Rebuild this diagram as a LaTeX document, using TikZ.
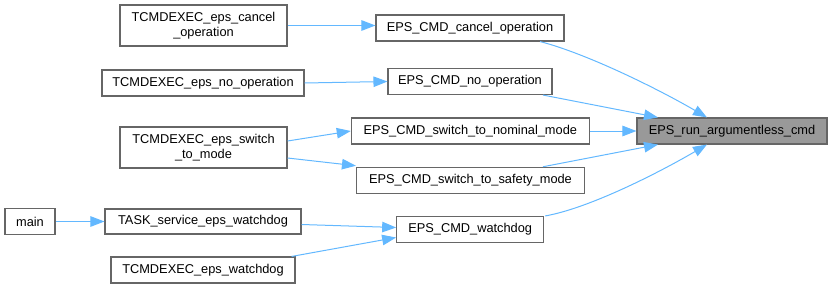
\documentclass[tikz,border=0pt]{standalone}
\usepackage{fontspec}
\setmainfont{Liberation Sans}
\usetikzlibrary{arrows.meta,calc}
\definecolor{edgeblue}{HTML}{63B8FF}
\definecolor{boxline}{HTML}{666666}
\definecolor{hilite}{HTML}{999999}
\begin{document}
\begin{tikzpicture}[x=1pt,y=-1pt,
  fn/.style={draw=boxline,line width=1.1pt,fill=white,inner sep=0pt,align=center,
    font=\fontsize{12.8}{14.5}\selectfont},
  call/.style={draw=edgeblue,line width=1pt,-{Triangle[length=14pt,width=10.5pt]}}]
\useasboundingbox (0,0) rectangle (832,289);

% callers of the EPS_CMD_* functions
\node[fn,minimum width=167,minimum height=41] (tcCancel) at (203.5,25.5) {TCMDEXEC\_eps\_cancel\\\_operation};
\node[fn,minimum width=202,minimum height=26] (tcNoop) at (203,83) {TCMDEXEC\_eps\_no\_operation};
\node[fn,minimum width=167,minimum height=41] (tcSwitch) at (203.5,147.5) {TCMDEXEC\_eps\_switch\\\_to\_mode};
\node[fn,minimum width=50,minimum height=26] (main) at (30,221.5) {main};
\node[fn,minimum width=196,minimum height=25] (task) at (203,221.5) {TASK\_service\_eps\_watchdog};
\node[fn,minimum width=184,minimum height=26] (tcWd) at (203,270) {TCMDEXEC\_eps\_watchdog};

% EPS_CMD_* functions
\node[fn,minimum width=188,minimum height=26] (cmdCancel) at (470,28) {EPS\_CMD\_cancel\_operation};
\node[fn,minimum width=164,minimum height=26] (cmdNoop) at (470,81.5) {EPS\_CMD\_no\_operation};
\node[fn,minimum width=238,minimum height=26] (cmdNominal) at (470.3,131) {EPS\_CMD\_switch\_to\_nominal\_mode};
\node[fn,minimum width=228,minimum height=26] (cmdSafety) at (470.5,180.3) {EPS\_CMD\_switch\_to\_safety\_mode};
\node[fn,minimum width=147,minimum height=26] (cmdWd) at (470.2,229.5) {EPS\_CMD\_watchdog};

% the function being documented
\node[fn,fill=hilite,minimum width=190,minimum height=26] (run) at (732,131) {EPS\_run\_argumentless\_cmd};

% call edges
\draw[call] (tcCancel.east) -- (cmdCancel.west |- tcCancel.east);
\draw[call] (tcNoop.east) -- (cmdNoop.west);
\draw[call] ($(tcSwitch.east)+(0,-6.5)$) -- (cmdNominal.west);
\draw[call] ($(tcSwitch.east)+(0,10.5)$) -- ($(cmdSafety.north west)+(0,-1)$);
\draw[call] (main.east) -- (task.west);
\draw[call] ($(task.east)+(0,3)$) -- ($(cmdWd.west)+(0,-2)$);
\draw[call] ($(tcWd.north east)+(-4,0)$) -- ($(cmdWd.west)+(0,8)$);

\draw[call] ($(cmdCancel.south)+(70,0)$) .. controls (588,54) and (660,90) .. ($(run.north)+(-25,0)$);
\draw[call] ($(cmdNoop.south)+(73,0)$) -- ($(run.north)+(-74,0)$);
\draw[call] (cmdNominal.east) -- (run.west);
\draw[call] ($(cmdSafety.north)+(72.5,0)$) -- ($(run.south)+(-74,0)$);
\draw[call] ($(cmdWd.north)+(75,0)$) .. controls (590,208) and (660,172) .. ($(run.south)+(-25,0)$);
\end{tikzpicture}
\end{document}
